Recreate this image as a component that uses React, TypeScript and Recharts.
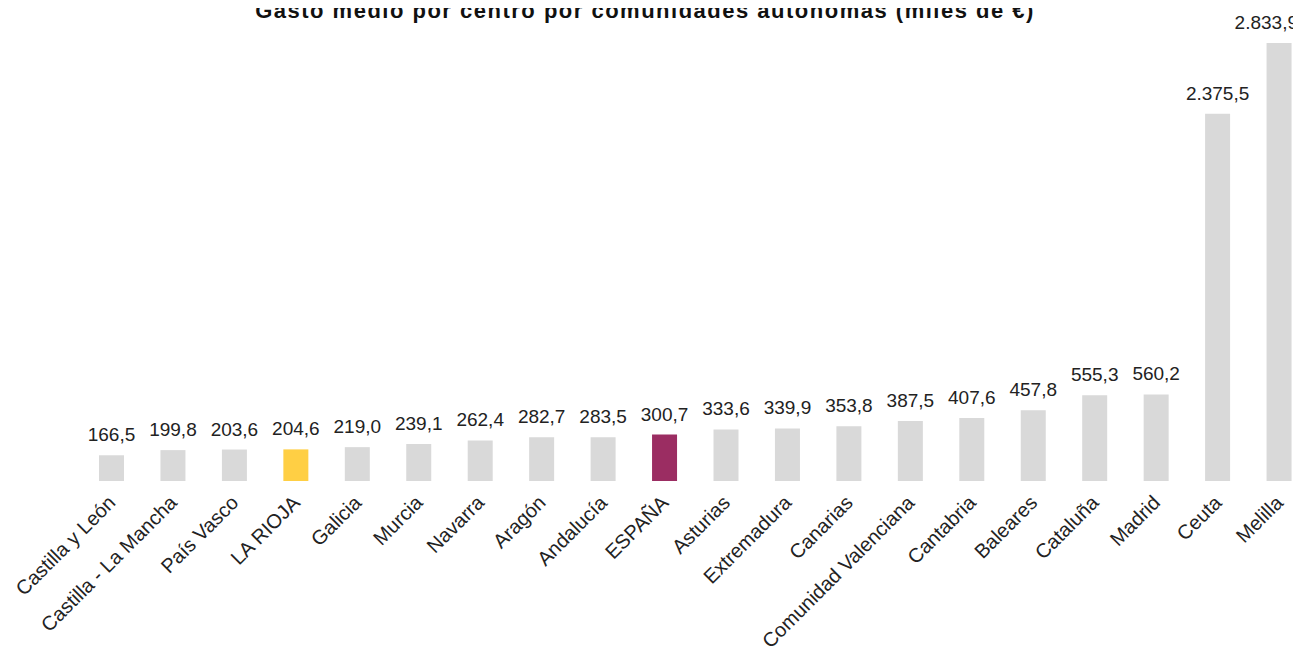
import React from "react";
import { Bar, BarChart, Cell, LabelList, XAxis, YAxis } from "recharts";

const regions = [
  "Castilla y León",
  "Castilla - La Mancha",
  "País Vasco",
  "LA RIOJA",
  "Galicia",
  "Murcia",
  "Navarra",
  "Aragón",
  "Andalucía",
  "ESPAÑA",
  "Asturias",
  "Extremadura",
  "Canarias",
  "Comunidad Valenciana",
  "Cantabria",
  "Baleares",
  "Cataluña",
  "Madrid",
  "Ceuta",
  "Melilla",
];

const spending = [
  166.5, 199.8, 203.6, 204.6, 219.0, 239.1, 262.4, 282.7, 283.5, 300.7, 333.6,
  339.9, 353.8, 387.5, 407.6, 457.8, 555.3, 560.2, 2375.5, 2833.9,
];

const highlight: Record<string, string> = {
  "LA RIOJA": "#ffcf44",
  "ESPAÑA": "#9b2d62",
};

const data = regions.map((name, i) => ({ name, value: spending[i] }));

const font = "'Liberation Sans', Arial, sans-serif";

const fmt = (v: number) => {
  const [int, dec] = v.toFixed(1).split(".");
  return int.replace(/\B(?=(\d{3})+(?!\d))/g, ".") + "," + dec;
};

function ValueLabel(props: any) {
  const { x, y, width, value } = props;
  const cx = x + width / 2;
  // keep the last label inside the picture
  const clip = cx + 36 > 1298;
  return (
    <text
      x={clip ? 1298 : cx}
      y={y - 14}
      textAnchor={clip ? "end" : "middle"}
      fontSize={19}
      fontFamily={font}
      fill="#222"
    >
      {fmt(value)}
    </text>
  );
}

function RegionTick(props: any) {
  const { x, y, payload } = props;
  const tx = x + 5;
  const ty = y + 15;
  return (
    <text
      x={tx}
      y={ty}
      textAnchor="end"
      fontSize={20}
      fontFamily={font}
      fill="#222"
      transform={`rotate(-45 ${tx} ${ty})`}
    >
      {payload.value}
    </text>
  );
}

export default function App() {
  return (
    <div
      style={{
        position: "relative",
        width: 1301,
        height: 654,
        margin: -8,
        overflow: "hidden",
        background: "#fff",
      }}
    >
      <div
        style={{
          position: "absolute",
          top: -2,
          left: 0,
          width: 1290,
          textAlign: "center",
          fontFamily: font,
          fontWeight: "bold",
          fontSize: 22,
          letterSpacing: 1.5,
          color: "#111",
        }}
      >
        Gasto medio por centro por comunidades autónomas (miles de €)
      </div>
      <BarChart
        width={1310}
        height={654}
        data={data}
        margin={{ top: 43, right: 0, bottom: 0, left: 81 }}
      >
        <XAxis
          dataKey="name"
          interval={0}
          axisLine={false}
          tickLine={false}
          height={173}
          tick={<RegionTick />}
        />
        <YAxis hide domain={[0, 2833.9]} />
        <Bar dataKey="value" barSize={25} isAnimationActive={false}>
          {data.map((d) => (
            <Cell key={d.name} fill={highlight[d.name] ?? "#d9d9d9"} />
          ))}
          <LabelList dataKey="value" content={<ValueLabel />} />
        </Bar>
      </BarChart>
    </div>
  );
}
